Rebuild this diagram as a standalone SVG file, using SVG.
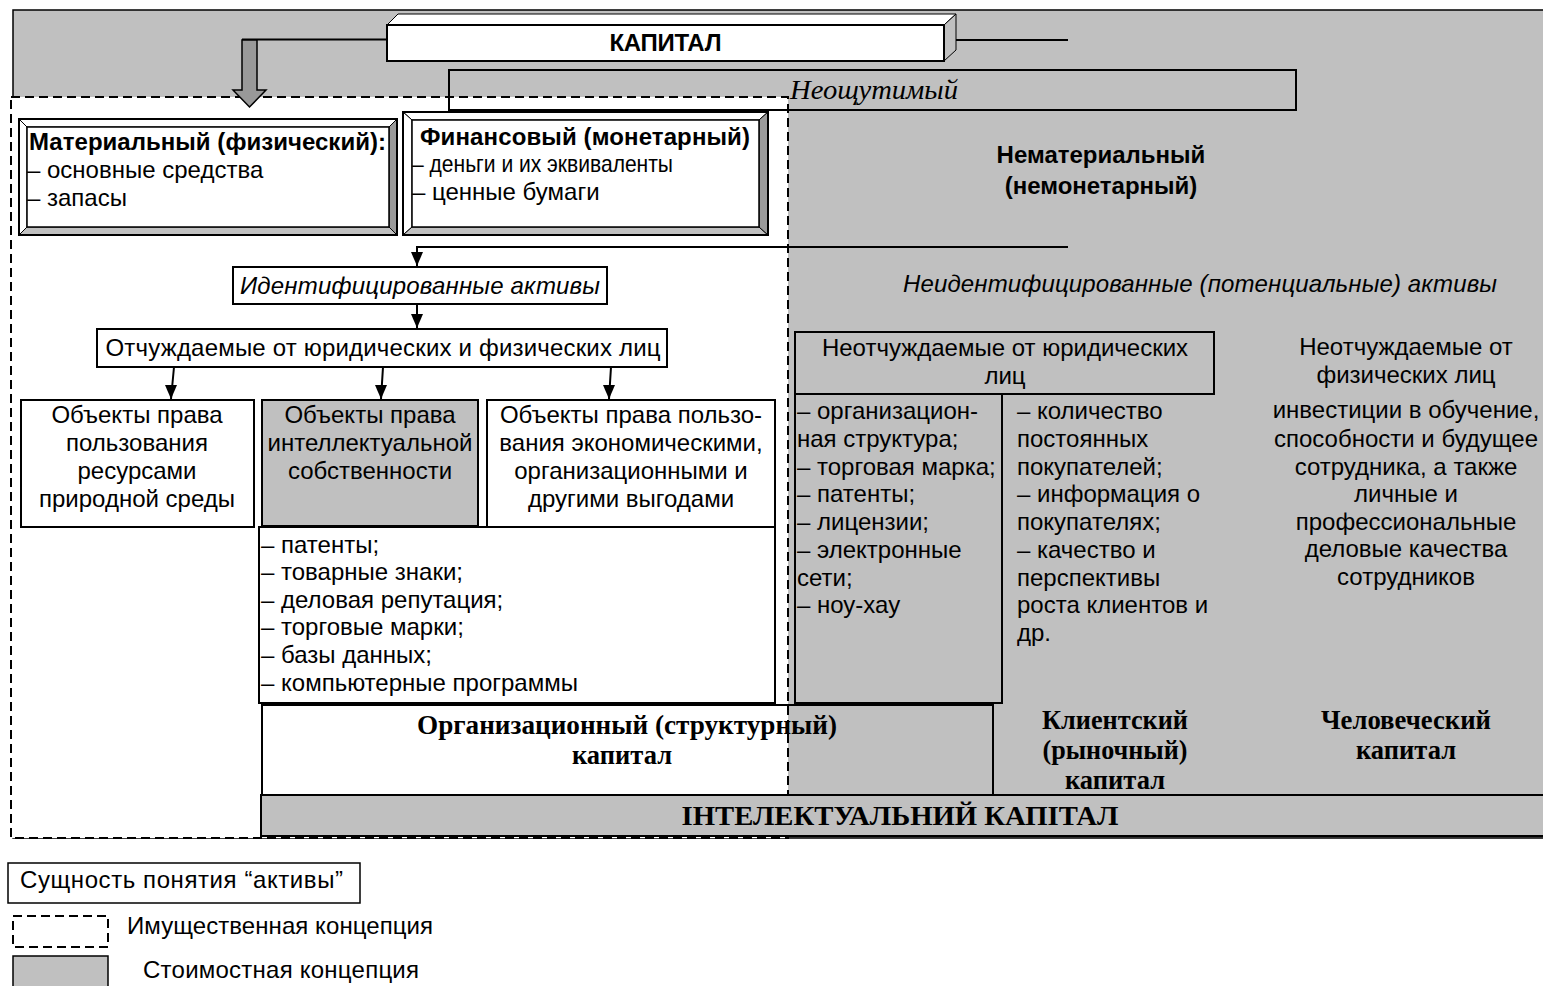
<svg xmlns="http://www.w3.org/2000/svg" width="1543" height="986" viewBox="0 0 1543 986">
<defs>
<style>
.t{font-family:"Liberation Sans",Arial,sans-serif;font-size:24px;fill:#000}
.b{font-weight:bold}
.i{font-style:italic}
.m{text-anchor:middle}
.s{font-family:"Liberation Serif","Times New Roman",serif;font-weight:bold;font-size:28px;fill:#000}
.box{fill:#fff;stroke:#000;stroke-width:2}
.gbox{fill:#c0c0c0;stroke:#000;stroke-width:2}
.nof{fill:none;stroke:#000;stroke-width:2}
.ln{fill:none;stroke:#000;stroke-width:2}
.dash{fill:none;stroke:#000;stroke-width:2;stroke-dasharray:9,5}
.bw{fill:#fff;stroke:#000;stroke-width:1}
.bl{fill:#c0c0c0;stroke:#000;stroke-width:1}
.bd{fill:#9a9a9a;stroke:#000;stroke-width:1}
</style>
<marker id="ah" viewBox="0 0 12 14" markerWidth="12" markerHeight="14" refX="6" refY="14" orient="0" markerUnits="userSpaceOnUse">
<path d="M0,0 L12,0 L6,14 Z" fill="#000"/>
</marker>
</defs>

<g id="background">
<rect x="13" y="10" width="1532" height="828" fill="#c0c0c0" stroke="#000" stroke-width="1.5"/>
<rect x="11" y="97" width="777" height="741" fill="#fff"/>
</g>

<g id="neoshchutimy">
<rect x="449" y="70" width="847" height="40" class="nof"/>
<text x="790" y="99" font-family="'Liberation Serif','Times New Roman',serif" font-style="italic" font-size="28" textLength="168" lengthAdjust="spacingAndGlyphs">Неощутимый</text>
</g>

<g id="imush-region">
<rect x="11" y="97" width="777" height="741" class="dash"/>
</g>

<g id="connectors">
<line x1="242" y1="39.5" x2="387" y2="39.5" class="ln"/>
<polygon points="242,40 257,40 257,90 266,90 249.5,107 233,90 242,90" fill="#999" stroke="#000" stroke-width="1.5"/>
<line x1="956" y1="40" x2="1068" y2="40" class="ln"/>
<polyline points="1068,247 417,247 417,266" class="ln" marker-end="url(#ah)"/>
<line x1="417" y1="304" x2="417" y2="328" class="ln" marker-end="url(#ah)"/>
<line x1="174" y1="367" x2="171" y2="399" class="ln" marker-end="url(#ah)"/>
<line x1="383" y1="367" x2="381" y2="399" class="ln" marker-end="url(#ah)"/>
<line x1="611" y1="367" x2="609" y2="399" class="ln" marker-end="url(#ah)"/>
</g>

<g id="kapital">
<polygon points="387,25 398,14 956,14 944,25" class="bw" stroke-width="2"/>
<polygon points="944,25 956,14 956,50 944,61" class="bl" stroke-width="2"/>
<rect x="387" y="25" width="557" height="36" class="box"/>
<text x="665.5" y="51" class="t b m" font-size="23" textLength="112">КАПИТАЛ</text>
</g>

<g id="materialny">
<polygon points="19,119 397,119 389,127 27,127" class="bw"/>
<polygon points="19,119 27,127 27,227 19,235" class="bw"/>
<polygon points="19,235 27,227 389,227 397,235" class="bl"/>
<polygon points="397,119 397,235 389,227 389,127" class="bd"/>
<rect x="19" y="119" width="378" height="116" class="nof"/>
<rect x="27" y="127" width="362" height="100" fill="#fff" stroke="#000" stroke-width="1.5"/>
<text x="29" y="150" class="t b" textLength="357">Материальный (физический):</text>
<text x="27" y="178" class="t">– основные средства</text>
<text x="27" y="206" class="t">– запасы</text>
</g>

<g id="finansovy">
<polygon points="403,112 768,112 759,120 412,120" class="bw"/>
<polygon points="403,112 412,120 412,227 403,235" class="bw"/>
<polygon points="403,235 412,227 759,227 768,235" class="bl"/>
<polygon points="768,112 768,235 759,227 759,120" class="bd"/>
<rect x="403" y="112" width="365" height="123" class="nof"/>
<rect x="412" y="120" width="347" height="107" fill="#fff" stroke="#000" stroke-width="1.5"/>
<text x="420" y="145" class="t b" textLength="330">Финансовый (монетарный)</text>
<text x="412" y="172" class="t" textLength="261" lengthAdjust="spacingAndGlyphs">– деньги и их эквиваленты</text>
<text x="412" y="200" class="t">– ценные бумаги</text>
</g>

<g id="nematerialny">
<text x="1101" y="163" class="t b m">Нематериальный</text>
<text x="1101" y="194" class="t b m">(немонетарный)</text>
</g>

<g id="identified">
<rect x="233" y="267" width="374" height="37" class="box"/>
<text x="420" y="294" class="t i m" textLength="360">Идентифицированные активы</text>
</g>

<g id="unidentified">
<text x="1200" y="292" class="t i m" textLength="594">Неидентифицированные (потенциальные) активы</text>
</g>

<g id="otchuzhdaemye">
<rect x="97" y="329" width="570" height="38" class="box"/>
<text x="383" y="356" class="t m" textLength="555">Отчуждаемые от юридических и физических лиц</text>
</g>

<g id="obj-nature">
<rect x="21" y="400" width="233" height="127" class="box"/>
<text x="137" y="423" class="t m">Объекты права</text>
<text x="137" y="451" class="t m">пользования</text>
<text x="137" y="479" class="t m">ресурсами</text>
<text x="137" y="507" class="t m">природной среды</text>
</g>

<g id="obj-intellect">
<rect x="262" y="400" width="216" height="126" class="gbox"/>
<text x="370" y="423" class="t m">Объекты права</text>
<text x="370" y="451" class="t m">интеллектуальной</text>
<text x="370" y="479" class="t m">собственности</text>
</g>

<g id="obj-econ">
<rect x="487" y="400" width="288" height="127" class="box"/>
<text x="631" y="423" class="t m">Объекты права пользо-</text>
<text x="631" y="451" class="t m">вания экономическими,</text>
<text x="631" y="479" class="t m">организационными и</text>
<text x="631" y="507" class="t m">другими выгодами</text>
</g>

<g id="ip-list">
<rect x="259" y="527" width="516" height="176" class="box"/>
<text x="261" y="553" class="t">– патенты;</text>
<text x="261" y="580" class="t">– товарные знаки;</text>
<text x="261" y="608" class="t">– деловая репутация;</text>
<text x="261" y="635" class="t">– торговые марки;</text>
<text x="261" y="663" class="t">– базы данных;</text>
<text x="261" y="691" class="t">– компьютерные программы</text>
</g>

<g id="neotchuzh-jur">
<rect x="795" y="332" width="419" height="62" class="gbox"/>
<text x="1005" y="356" class="t m">Неотчуждаемые от юридических</text>
<text x="1005" y="384" class="t m">лиц</text>
</g>

<g id="struct-list">
<rect x="795" y="394" width="207" height="309" class="gbox"/>
<text x="797" y="419" class="t">– организацион-</text>
<text x="797" y="447" class="t">ная структура;</text>
<text x="797" y="475" class="t">– торговая марка;</text>
<text x="797" y="502" class="t">– патенты;</text>
<text x="797" y="530" class="t">– лицензии;</text>
<text x="797" y="558" class="t">– электронные</text>
<text x="797" y="586" class="t">сети;</text>
<text x="797" y="613" class="t">– ноу-хау</text>
</g>

<g id="client-list">
<text x="1017" y="419" class="t">– количество</text>
<text x="1017" y="447" class="t">постоянных</text>
<text x="1017" y="475" class="t">покупателей;</text>
<text x="1017" y="502" class="t">– информация о</text>
<text x="1017" y="530" class="t">покупателях;</text>
<text x="1017" y="558" class="t">– качество и</text>
<text x="1017" y="586" class="t">перспективы</text>
<text x="1017" y="613" class="t">роста клиентов и</text>
<text x="1017" y="641" class="t">др.</text>
</g>

<g id="human-list">
<text x="1406" y="355" class="t m">Неотчуждаемые от</text>
<text x="1406" y="383" class="t m">физических лиц</text>
<text x="1406" y="418" class="t m">инвестиции в обучение,</text>
<text x="1406" y="447" class="t m">способности и будущее</text>
<text x="1406" y="475" class="t m">сотрудника, а также</text>
<text x="1406" y="502" class="t m">личные и</text>
<text x="1406" y="530" class="t m">профессиональные</text>
<text x="1406" y="557" class="t m">деловые качества</text>
<text x="1406" y="585" class="t m">сотрудников</text>
</g>

<g id="org-capital">
<rect x="262" y="705" width="731" height="90" class="nof"/>
<text x="627" y="734" class="s m" textLength="420" lengthAdjust="spacingAndGlyphs">Организационный  (структурный)</text>
<text x="622" y="764" class="s m" textLength="100" lengthAdjust="spacingAndGlyphs">капитал</text>
</g>

<g id="client-capital">
<text x="1115" y="729" class="s m" textLength="146" lengthAdjust="spacingAndGlyphs">Клиентский</text>
<text x="1115" y="759" class="s m" textLength="145" lengthAdjust="spacingAndGlyphs">(рыночный)</text>
<text x="1115" y="789" class="s m" textLength="100" lengthAdjust="spacingAndGlyphs">капитал</text>
</g>

<g id="human-capital">
<text x="1406" y="729" class="s m" textLength="170" lengthAdjust="spacingAndGlyphs">Человеческий</text>
<text x="1406" y="759" class="s m" textLength="100" lengthAdjust="spacingAndGlyphs">капитал</text>
</g>

<g id="intellect-capital">
<rect x="261" y="795" width="1284" height="41" class="gbox"/>
<text x="900" y="825" class="s m" font-size="27" textLength="437" lengthAdjust="spacingAndGlyphs">ІНТЕЛЕКТУАЛЬНИЙ КАПІТАЛ</text>
</g>

<g id="legend">
<rect x="8" y="863" width="352" height="40" fill="#fff" stroke="#000" stroke-width="1.5"/>
<text x="20" y="888" class="t" textLength="323">Сущность понятия “активы”</text>
<rect x="13" y="916" width="95" height="31" class="dash" stroke-width="1.5"/>
<text x="127" y="934" class="t" textLength="306">Имущественная концепция</text>
<rect x="13" y="956" width="95" height="40" fill="#c0c0c0" stroke="#000" stroke-width="1.5"/>
<text x="143" y="978" class="t" textLength="276">Стоимостная концепция</text>
</g>
</svg>
